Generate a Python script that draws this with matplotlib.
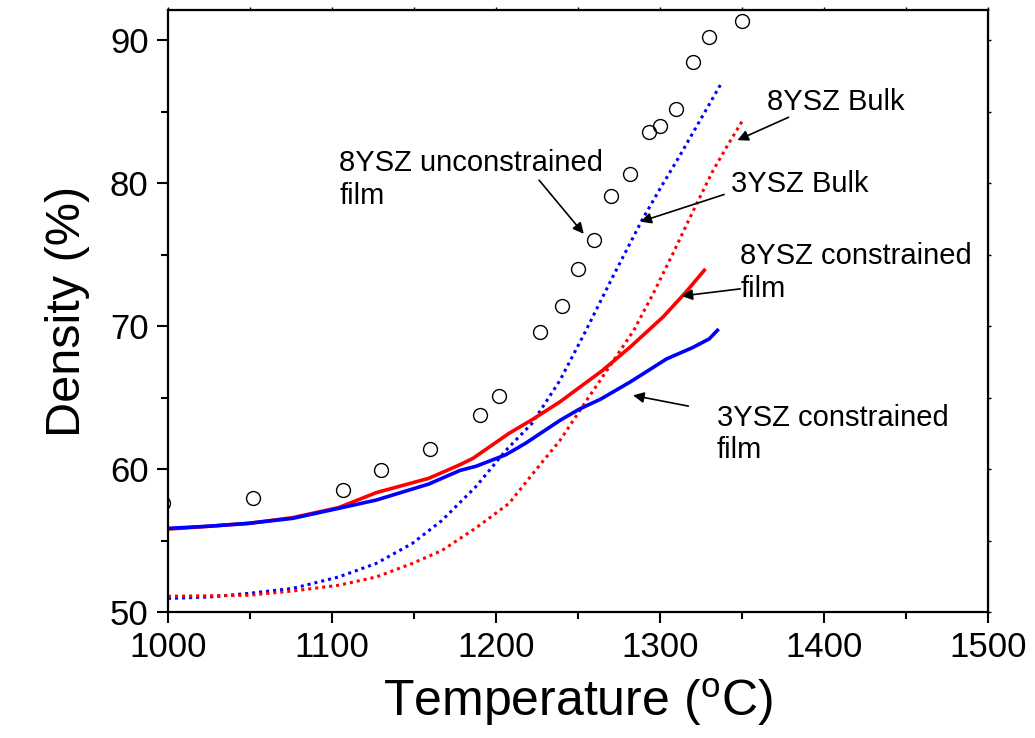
import numpy as np
import matplotlib.pyplot as plt
from matplotlib.ticker import MultipleLocator, NullFormatter

plt.rcParams['font.family'] = ['Liberation Sans', 'DejaVu Sans']
plt.rcParams['mathtext.fontset'] = 'custom'
plt.rcParams['mathtext.rm'] = 'Liberation Sans'

# 8YSZ unconstrained film (open circles)
unc_T = [997, 1052, 1107, 1130, 1160, 1190, 1202, 1227, 1240, 1250,
         1260, 1270, 1282, 1293, 1300, 1310, 1320, 1330, 1350]
unc_D = [57.6, 58.0, 58.5, 59.9, 61.4, 63.8, 65.1, 69.6, 71.4, 74.0,
         76.0, 79.1, 80.6, 83.6, 84.0, 85.2, 88.5, 90.2, 91.3]

# 3YSZ bulk (blue dotted)
b3_T = [1000, 1025, 1049, 1076, 1104, 1127, 1149, 1167, 1188, 1206,
        1222, 1239, 1254, 1271, 1289, 1300, 1312, 1322, 1331, 1338]
b3_D = [50.95, 51.05, 51.3, 51.65, 52.45, 53.4, 54.8, 56.4, 58.8, 61.3,
        63.2, 66.2, 69.5, 73.4, 77.4, 79.6, 81.9, 83.9, 85.7, 87.1]

# 8YSZ bulk (red dotted)
b8_T = [1000, 1049, 1076, 1104, 1127, 1149, 1167, 1188, 1208, 1224,
        1239, 1257, 1270, 1284, 1296, 1308, 1320, 1332, 1341, 1351]
b8_D = [51.1, 51.17, 51.47, 51.87, 52.45, 53.4, 54.3, 55.9, 57.6, 59.9,
        62.0, 65.1, 67.3, 69.7, 72.3, 75.1, 78.0, 80.8, 82.6, 84.5]

# 8YSZ constrained film (red solid)
c8_T = [1000, 1025, 1049, 1076, 1104, 1127, 1159, 1178, 1186, 1208,
        1222, 1239, 1265, 1282, 1302, 1316, 1327]
c8_D = [55.8, 56.0, 56.2, 56.6, 57.3, 58.35, 59.35, 60.3, 60.75, 62.5,
        63.45, 64.7, 66.9, 68.55, 70.65, 72.4, 73.9]

# 3YSZ constrained film (blue solid)
c3_T = [1000, 1025, 1049, 1076, 1104, 1127, 1159, 1178, 1188, 1206,
        1218, 1239, 1251, 1264, 1282, 1304, 1320, 1330, 1335]
c3_D = [55.85, 56.0, 56.2, 56.55, 57.25, 57.83, 58.95, 59.9, 60.2, 61.0,
        61.8, 63.4, 64.2, 64.9, 66.1, 67.7, 68.5, 69.1, 69.7]

fig = plt.figure(figsize=(10.35, 7.38), dpi=100)
ax = fig.add_axes([0.1623, 0.1707, 0.7923, 0.8157])

dot = (0, (1, 1.3))
ax.plot(b3_T, b3_D, color='#0000ff', lw=2.2, linestyle=dot)
ax.plot(b8_T, b8_D, color='#ff0000', lw=2.2, linestyle=dot)
ax.plot(c8_T, c8_D, color='#ff0000', lw=2.6)
ax.plot(c3_T, c3_D, color='#0000ff', lw=2.6)
ax.plot(unc_T, unc_D, 'o', mfc='none', mec='k', ms=10, mew=1.0)

ax.set_xlim(1000, 1500)
ax.set_ylim(50, 92.1)
ax.xaxis.set_major_locator(MultipleLocator(100))
ax.xaxis.set_minor_locator(MultipleLocator(50))
ax.yaxis.set_major_locator(MultipleLocator(10))
ax.yaxis.set_minor_locator(MultipleLocator(5))
ax.tick_params(which='major', length=8, width=1.5, labelsize=25, pad=6)
ax.tick_params(which='minor', length=5, width=1.5)
for s in ax.spines.values():
    s.set_linewidth(1.6)

# small ticks on the top and right frame
top = ax.secondary_xaxis('top')
top.xaxis.set_major_locator(MultipleLocator(50))
top.xaxis.set_major_formatter(NullFormatter())
top.tick_params(length=2, width=1)
right = ax.secondary_yaxis('right')
right.yaxis.set_major_locator(MultipleLocator(5))
right.yaxis.set_major_formatter(NullFormatter())
right.tick_params(length=2, width=1)

ax.set_xlabel(r'Temperature ($^\mathrm{o}$C)', fontsize=36, labelpad=8)
ax.set_ylabel('Density (%)', fontsize=35, labelpad=14)

arrow = dict(arrowstyle='-|>', color='k', lw=1.2, mutation_scale=16,
             shrinkA=0, shrinkB=0)
fs = 21
# multi-line labels are anchored at the baseline of their last line
ax.text(1104.4, 78.55, '8YSZ unconstrained\nfilm', fontsize=fs, va='baseline')
ax.annotate('', xy=(1253.5, 76.45), xytext=(1226.3, 80.2), arrowprops=arrow)
ax.text(1365.2, 85.1, '8YSZ Bulk', fontsize=fs, va='baseline')
ax.annotate('', xy=(1347.2, 83.0), xytext=(1378.4, 84.6), arrowprops=arrow)
ax.text(1343.2, 79.4, '3YSZ Bulk', fontsize=fs, va='baseline')
ax.annotate('', xy=(1288.1, 77.3), xytext=(1339.1, 79.2), arrowprops=arrow)
ax.text(1348.9, 72.05, '8YSZ constrained\nfilm', fontsize=fs, va='baseline')
ax.annotate('', xy=(1313.2, 72.1), xytext=(1348.9, 72.6), arrowprops=arrow)
ax.text(1334.6, 60.75, '3YSZ constrained\nfilm', fontsize=fs, va='baseline')
ax.annotate('', xy=(1283.6, 65.15), xytext=(1317.3, 64.4), arrowprops=arrow)

fig.savefig('out.png', dpi=100)
